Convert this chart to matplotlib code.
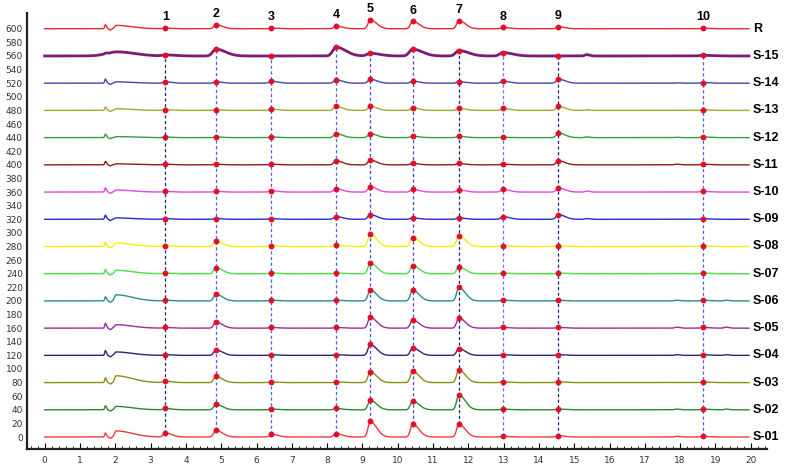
import numpy as np
import matplotlib.pyplot as plt
from matplotlib.ticker import MultipleLocator

# Позиції піків (хв) і підписи
peak_x = [3.42, 4.85, 6.42, 8.25, 9.22, 10.42, 11.73, 12.98, 14.55, 18.65]
peak_labels = ['1', '2', '3', '4', '5', '6', '7', '8', '9', '10']

# Назви хроматограм знизу вгору
names = ['S-01', 'S-02', 'S-03', 'S-04', 'S-05', 'S-06', 'S-07', 'S-08',
         'S-09', 'S-10', 'S-11', 'S-12', 'S-13', 'S-14', 'S-15', 'R']
baselines = [0, 40, 80, 120, 160, 200, 240, 280,
             320, 360, 400, 440, 480, 520, 560, 600]

# Висоти піків 1..10 для кожної хроматограми
heights = [
    [6, 10, 4, 5, 23, 19, 19, 1, 2, 1],
    [2, 8, 1, 2, 14, 13, 22, 1, 1, 1],
    [2, 9, 1, 1, 16, 17, 19, 1, 1, 1],
    [1, 8, 1, 1, 16, 11, 10, 1, 1, 1],
    [1, 9, 1, 1, 16, 12, 15, 1, 1, 1],
    [1, 10, 1, 1, 16, 16, 20, 1, 1, 1],
    [1, 9, 1, 1, 16, 12, 10, 1, 1, 1],
    [1, 8, 1, 2, 18, 13, 16, 1, 1, 1],
    [1, 1, 1, 4, 7, 2, 2, 4, 7, 1],
    [1, 1, 2, 5, 8, 4, 3, 4, 6, 1],
    [1, 1, 1, 6, 7, 2, 2, 1, 6, 1],
    [1, 1, 1, 6, 6, 2, 2, 0.5, 7, 1],
    [1, 1, 2, 6, 6, 4, 3, 3, 6, 1],
    [2, 2, 3, 5, 6, 3, 2, 3, 6, 1],
    [1.5, 10, 0, 13, 4, 10, 8, 5, 0, 1],
    [1, 6, 1, 4, 13, 11, 12, 2, 3, 1],
]

# Ранні сигнали: сплеск, провал, горб
early_x = [1.72, 1.86, 2.02]
spike_h = [6, 6, 7, 7, 7, 6, 6, 6, 6, 6, 5, 5, 5, 6, 1, 6]
hump_h = [9, 5, 10, 5, 5, 9, 5, 5, 2, 3, 1.5, 1.5, 2.5, 2, 6, 5]

# Дрібні піки в кінці
minor_x = [15.35, 17.9, 19.3]
minor_h = [
    [0, 1, 0], [0, 1, 1], [0, 0, 0], [0, 1, 1], [0, 1.5, 1.5], [0, 1, 1],
    [0, 0, 0], [0, 0, 0], [1, 0, 0], [1.5, 0, 0], [0, 1, 0], [1, 0.5, 0],
    [1, 0, 0], [0, 0.5, 0], [2, 0, 0], [0, 0, 0],
]

colors = ['#f03a3a', '#2a8a2a', '#8c8c18', '#262680', '#9a2c9a', '#2a8c8c',
          '#48e048', '#f2f200', '#2a2ad0', '#e444e4', '#8e1c1c', '#34a034',
          '#a6a630', '#4444b0', '#7a1c7a', '#e62a2a']
widths = [1] * 14 + [2, 1]
line_colors = ['#202080', '#5a5ae6', '#5a5ae6', '#5a5ae6', '#4848d6',
               '#4848d6', '#202080', '#7070f0', '#202080', '#5a5ae6']


def peak(x, mu, h, s1=0.06, s2=0.16):
    """Асиметричний пік з хвостом"""
    s = np.where(x < mu, s1, s2)
    return h * np.exp(-0.5 * ((x - mu) / s) ** 2)


x = np.linspace(0, 19.95, 4000)
fig = plt.figure(figsize=(7.86, 4.68), dpi=100)
ax = fig.add_axes([0.0344, 0.0406, 0.9414, 0.9314])

marker_y = []
for i, name in enumerate(names):
    k = 1.5 if name == 'S-15' else 1.0
    y = np.zeros_like(x) + baselines[i]
    y += peak(x, early_x[0], spike_h[i], 0.02, 0.03)
    y += peak(x, early_x[1], -0.3 * spike_h[i], 0.03, 0.03)
    if name == 'S-15':
        y += peak(x, 2.05, hump_h[i], 0.3, 0.5)
    else:
        y += peak(x, early_x[2], hump_h[i], 0.04, 0.45)
    for px, h in zip(peak_x, heights[i]):
        y += peak(x, px, h, 0.06 * k, 0.18 * k)
    for px, h in zip(minor_x, minor_h[i]):
        y += peak(x, px, h, 0.05, 0.08)
    ax.plot(x, y, color=colors[i], lw=widths[i], zorder=3)
    my = np.interp(peak_x, x, y)
    marker_y.append(my)
    ax.plot(peak_x, my, 'o', color='#e0102a', ms=3.2, zorder=5)
    ax.text(20.06, baselines[i], name, fontsize=9, fontweight='bold',
            family='Liberation Sans', va='center', ha='left', clip_on=False)

marker_y = np.array(marker_y)
for j, px in enumerate(peak_x):
    ax.plot([px, px], [marker_y[0, j], marker_y[-2, j]], color=line_colors[j],
            lw=0.9, ls=(0, (2.5, 2)), zorder=2)
    ax.text(px, marker_y[-1, j] + 7, peak_labels[j], fontsize=9,
            fontweight='bold', family='Liberation Sans', ha='center',
            va='bottom')

ax.set_xlim(-0.5, 20.46)
ax.set_ylim(-17.6, 623)
ax.xaxis.set_major_locator(MultipleLocator(1))
ax.xaxis.set_minor_locator(MultipleLocator(0.2))
ax.set_yticks(np.arange(0, 601, 20))
ax.tick_params(axis='x', which='major', direction='in', length=4,
               labelsize=6.5, labelcolor='#333333', pad=5)
ax.tick_params(axis='x', which='minor', direction='in', length=2.5)
ax.tick_params(axis='y', length=0, labelsize=6.5, labelcolor='#333333', pad=3)
for side in ['top', 'right']:
    ax.spines[side].set_visible(False)
for side in ['left', 'bottom']:
    ax.spines[side].set_linewidth(1.6)
    ax.spines[side].set_color('#222222')

fig.savefig('out.png', dpi=100)
